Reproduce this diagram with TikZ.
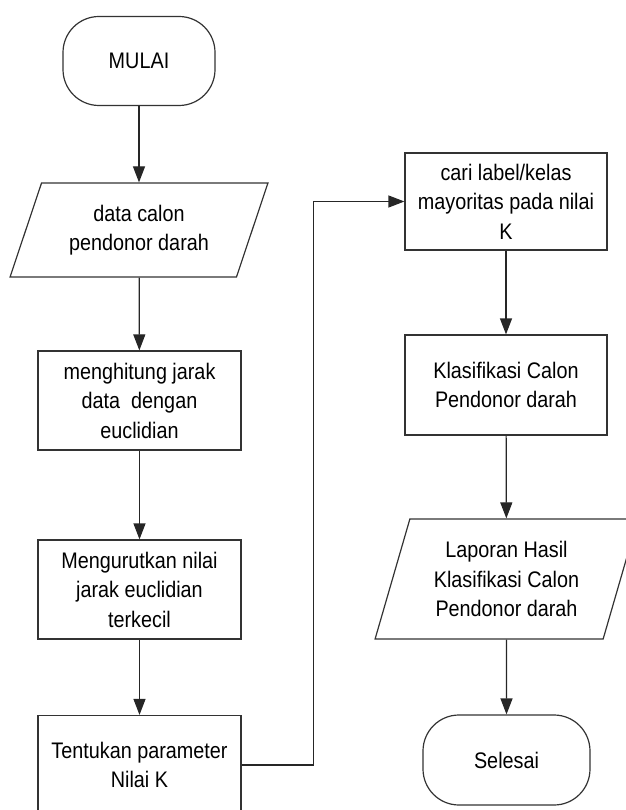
\documentclass[tikz,border=0pt]{standalone}
\usepackage{fontspec}
\setmainfont[FakeStretch=0.88]{Liberation Sans}
\usetikzlibrary{shapes.geometric,arrows.meta}
\tikzset{
  terminal/.style={draw=black!80,line width=1.2pt,shape=rectangle,rounded corners=36pt,align=center},
  process/.style={draw=black!80,line width=1.2pt,shape=rectangle,minimum width=203pt,align=center},
  io/.style={draw=black!80,line width=1.2pt,shape=trapezium,trapezium stretches=true,align=center},
  flow/.style={-{Triangle[length=16pt,width=12pt]},draw=black!85,line width=1.2pt}
}
\begin{document}
\begin{tikzpicture}[x=1pt,y=-1pt,font=\fontsize{22.5pt}{29.5pt}\selectfont]
  \useasboundingbox (0,0) rectangle (625,810);
  %\draw[step=50pt,gray,very thin] (0,0) grid (625,810);
  \node[terminal,minimum width=152pt,minimum height=89pt] (Mulai) at (139,61) {MULAI};
  \node[io,trapezium left angle=67.5,trapezium right angle=112.5,minimum width=258pt,minimum height=94pt] (Data) at (139,230) {data calon\\pendonor darah};
  \node[process,minimum height=99pt] (Hitung) at (139.5,400.5) {menghitung jarak\\data\ \ dengan\\euclidian};
  \node[process,minimum height=99pt] (Urut) at (139.5,589.5) {Mengurutkan nilai\\jarak euclidian\\terkecil};
  \node[process,minimum height=99pt] (Tentukan) at (139.5,765) {Tentukan parameter\\Nilai K};
  \node[process,minimum width=202pt,minimum height=97pt] (Cari) at (506,201.5) {cari label/kelas\\mayoritas pada nilai\\K};
  \node[process,minimum width=202pt,minimum height=100pt] (Klas) at (506,385) {Klasifikasi Calon\\Pendonor darah};
  \node[io,trapezium left angle=71.6,trapezium right angle=108.4,minimum width=263pt,minimum height=120pt] (Lapor) at (506.5,579) {Laporan Hasil\\Klasifikasi Calon\\Pendonor darah};
  \node[terminal,minimum width=167pt,minimum height=90pt] (Selesai) at (506.5,760) {Selesai};

  \draw[flow] (Mulai) -- (Data);
  \draw[flow] (Data) -- (Hitung);
  \draw[flow] (Hitung) -- (Urut);
  \draw[flow] (Urut) -- (Tentukan);
  \draw[flow] (Tentukan.east) -- ++(72,0) |- (Cari.west);
  \draw[flow] (Cari) -- (Klas);
  \draw[flow] (Klas) -- (Lapor);
  \draw[flow] (Lapor) -- (Selesai);
\end{tikzpicture}
\end{document}
